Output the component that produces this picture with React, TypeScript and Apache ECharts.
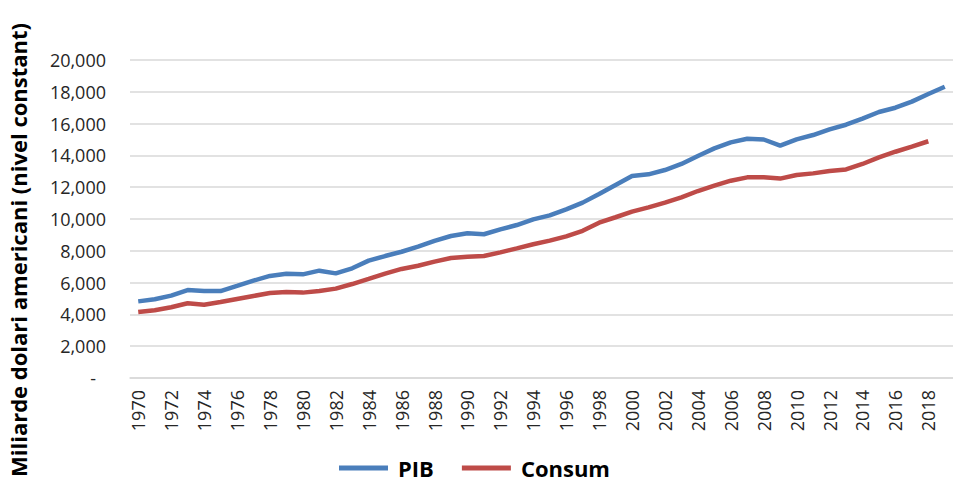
import React, { useEffect, useRef } from "react";
import * as echarts from "echarts";

const years: string[] = [];
for (let y = 1970; y <= 2019; y++) years.push(String(y));

const pib = [
  4820, 4950, 5180, 5530, 5470, 5470, 5790, 6120, 6420, 6550,
  6520, 6750, 6580, 6900, 7380, 7670, 7940, 8260, 8620, 8930,
  9100, 9040, 9350, 9620, 9980, 10230, 10610, 11030, 11570, 12140,
  12700, 12810, 13080, 13460, 13960, 14440, 14820, 15050, 15000, 14610,
  15010, 15280, 15640, 15930, 16310, 16730, 17000, 17380, 17860, 18320,
];

const consum = [
  4150, 4260, 4450, 4700, 4610, 4780, 4970, 5160, 5350, 5410,
  5370, 5470, 5620, 5910, 6230, 6560, 6860, 7060, 7320, 7550,
  7630, 7670, 7900, 8150, 8410, 8640, 8910, 9260, 9770, 10110,
  10460, 10730, 11030, 11360, 11760, 12100, 12410, 12620, 12620, 12540,
  12770, 12870, 13020, 13120, 13460, 13880, 14230, 14550, 14890,
];

const seriesNames = ["PIB", "Consum"];
const yTitle = "Miliarde dolari americani (nivel constant)";

export default function App() {
  const ref = useRef<HTMLDivElement>(null);
  useEffect(() => {
    if (!ref.current) return;
    const chart = echarts.init(ref.current, undefined, { renderer: "svg" });
    const font = "'Open Sans', 'DejaVu Sans', sans-serif";
    chart.setOption({
      animation: false,
      backgroundColor: "#ffffff",
      textStyle: { fontFamily: font },
      grid: { left: 130, top: 60, width: 830, height: 318, containLabel: false },
      legend: {
        data: seriesNames,
        left: 334,
        top: 452,
        icon: "rect",
        itemWidth: 49,
        itemHeight: 5,
        itemGap: 28,
        textStyle: {
          fontFamily: font,
          fontSize: 22,
          fontWeight: "bold",
          color: "#000",
          padding: [0, 0, 0, 5],
        },
      },
      xAxis: {
        type: "category",
        data: years,
        boundaryGap: true,
        axisLine: { show: true, lineStyle: { color: "#d9d9d9", width: 1.5 } },
        axisTick: { show: false },
        axisLabel: {
          interval: 1,
          rotate: 90,
          margin: 12,
          fontSize: 18,
          color: "#262626",
          fontFamily: font,
        },
      },
      yAxis: {
        type: "value",
        min: 0,
        max: 20000,
        interval: 2000,
        axisLine: { show: false },
        axisTick: { show: false },
        splitLine: { lineStyle: { color: "#d9d9d9", width: 1.5 } },
        axisLabel: {
          margin: 24,
          fontSize: 18,
          color: "#262626",
          fontFamily: font,
          formatter: (v: number) => (v === 0 ? "{d|-}" : v.toLocaleString("en-US")),
          rich: { d: { padding: [0, 10, 0, 0], fontSize: 18, color: "#262626", fontFamily: font } },
        },
      },
      graphic: [
        {
          type: "text",
          x: 18,
          y: 477,
          rotation: Math.PI / 2,
          style: {
            text: yTitle,
            fontFamily: font,
            fontSize: 22,
            fontWeight: "bold",
            fill: "#000",
            textAlign: "left",
            textVerticalAlign: "middle",
          },
        },
      ],
      series: [
        {
          name: seriesNames[0],
          type: "line",
          data: pib,
          symbol: "none",
          lineStyle: { color: "#4a7ebb", width: 4.5 },
          itemStyle: { color: "#4a7ebb" },
        },
        {
          name: seriesNames[1],
          type: "line",
          data: consum,
          symbol: "none",
          lineStyle: { color: "#be4b48", width: 4.5 },
          itemStyle: { color: "#be4b48" },
        },
      ],
    });
    return () => chart.dispose();
  }, []);
  return (
    <div
      ref={ref}
      style={{ position: "fixed", left: 0, top: 0, width: 953, height: 481 }}
    />
  );
}
